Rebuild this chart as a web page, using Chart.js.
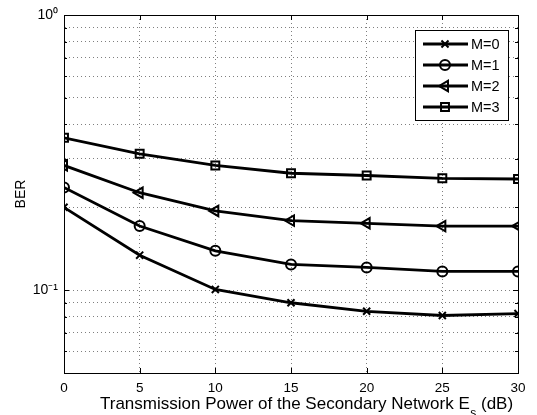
<!DOCTYPE html>
<html><head><meta charset="utf-8">
<script src="https://cdn.jsdelivr.net/npm/chart.js@4.4.1/dist/chart.umd.min.js"></script>
<style>html,body{margin:0;padding:0;background:#fff}canvas{display:block}</style>
</head><body>
<canvas id="c" width="537" height="415"></canvas>
<script>
// ---- data ----
const xValues = [0, 5, 10, 15, 20, 25, 30];
const seriesLabels = ['M=0', 'M=1', 'M=2', 'M=3'];
const berM0 = [0.200, 0.134, 0.1006, 0.090, 0.0838, 0.0809, 0.0822];
const berM1 = [0.236, 0.171, 0.139, 0.124, 0.121, 0.117, 0.117];
const berM2 = [0.284, 0.226, 0.194, 0.179, 0.175, 0.171, 0.171];
const berM3 = [0.358, 0.313, 0.284, 0.266, 0.261, 0.255, 0.2535];
const yGridValues = [0.05, 0.06, 0.07, 0.08, 0.09, 0.1, 0.2, 0.3, 0.4, 0.5, 0.6, 0.7, 0.8, 0.9, 1];
const yTickLabels = { '1': '10⁰', '0.1': '10⁻¹' };
const xTickStep = 5;
const xTitleParts = ['Transmission Power of the Secondary Network E', 's', ' (dB)'];
const yTitle = 'BER';

const FONT = "'Liberation Sans', Arial, Helvetica, sans-serif";
Chart.defaults.font.family = FONT;
Chart.defaults.color = '#000';

const seriesValues = [berM0, berM1, berM2, berM3];
const markerStyles = [
  { pointStyle: 'crossRot', rotation: 0, radius: 5 },
  { pointStyle: 'circle', rotation: 0, radius: 5 },
  { pointStyle: 'triangle', rotation: -90, radius: 6 },
  { pointStyle: 'rect', rotation: 0, radius: 5.6 }
];

const datasets = seriesValues.map((vals, i) => ({
  label: seriesLabels[i],
  data: xValues.map((x, j) => ({ x: x, y: vals[j] })),
  borderColor: '#000',
  borderWidth: 2.8,
  backgroundColor: 'rgba(0,0,0,0)',
  pointStyle: markerStyles[i].pointStyle,
  pointRotation: markerStyles[i].rotation,
  pointRadius: markerStyles[i].radius,
  pointBorderWidth: 2,
  pointBorderColor: '#000',
  pointBackgroundColor: 'rgba(0,0,0,0)',
  tension: 0,
  fill: false
}));

const GRID = 'rgba(0,0,0,0.5)';

const boxPlugin = {
  id: 'box',
  beforeDatasetsDraw(chart) {
    const { ctx, chartArea: a, scales } = chart;
    ctx.save();
    ctx.strokeStyle = '#000';
    ctx.lineWidth = 1;
    ctx.beginPath();
    scales.x.ticks.forEach(t => {
      const px = Math.round(scales.x.getPixelForValue(t.value)) + 0.5;
      ctx.moveTo(px, a.bottom); ctx.lineTo(px, a.bottom - 5);
      ctx.moveTo(px, a.top); ctx.lineTo(px, a.top + 5);
    });
    scales.y.ticks.forEach(t => {
      const py = Math.round(scales.y.getPixelForValue(t.value)) + 0.5;
      const len = (t.value === 1 || t.value === 0.1) ? 5 : 3;
      ctx.moveTo(a.left, py); ctx.lineTo(a.left + len, py);
      ctx.moveTo(a.right, py); ctx.lineTo(a.right - len, py);
    });
    ctx.stroke();
    ctx.strokeRect(Math.round(a.left) + 0.5, Math.round(a.top) + 0.5,
      Math.round(a.right - a.left), Math.round(a.bottom - a.top));
    ctx.restore();
  },
  afterDraw(chart) {
    const { ctx, chartArea: a } = chart;
    ctx.save();
    const lx = a.right - 103, ly = a.top + 15, lw = 93, lh = 90;
    ctx.fillStyle = '#fff';
    ctx.fillRect(lx, ly, lw, lh);
    ctx.strokeStyle = '#000';
    ctx.lineWidth = 1;
    ctx.strokeRect(Math.round(lx) + 0.5, Math.round(ly) + 0.5, lw, lh);
    ctx.font = '14.5px ' + FONT;
    ctx.textBaseline = 'middle';
    ctx.textAlign = 'left';
    chart.data.datasets.forEach((ds, i) => {
      const y = ly + 14 + i * 21;
      ctx.strokeStyle = '#000';
      ctx.lineWidth = 2.8;
      ctx.beginPath();
      ctx.moveTo(lx + 8, y); ctx.lineTo(lx + 53, y);
      ctx.stroke();
      ctx.lineWidth = 2;
      ctx.fillStyle = 'rgba(0,0,0,0)';
      Chart.helpers.drawPoint(ctx, {
        pointStyle: ds.pointStyle, rotation: ds.pointRotation,
        radius: ds.pointRadius, borderWidth: 2
      }, lx + 30, y);
      ctx.fillStyle = '#000';
      ctx.fillText(ds.label, lx + 56, y + 1);
    });
    ctx.fillStyle = '#000';
    ctx.textBaseline = 'alphabetic';
    let x = 100;
    const base = 409;
    ctx.font = '17px ' + FONT;
    ctx.fillText(xTitleParts[0], x, base);
    x += ctx.measureText(xTitleParts[0]).width;
    ctx.font = '12px ' + FONT;
    ctx.fillText(xTitleParts[1], x + 0.5, base + 8);
    x += ctx.measureText(xTitleParts[1]).width + 0.5;
    ctx.font = '17px ' + FONT;
    ctx.fillText(xTitleParts[2], x, base);
    ctx.restore();
  }
};

new Chart(document.getElementById('c'), {
  type: 'line',
  data: { datasets: datasets },
  plugins: [boxPlugin],
  options: {
    responsive: false,
    animation: false,
    devicePixelRatio: 1,
    layout: { padding: { top: 15, right: 19, left: 0, bottom: 0 } },
    plugins: { legend: { display: false }, tooltip: { enabled: false } },
    scales: {
      x: {
        type: 'linear', min: 0, max: 30,
        afterFit(s) { s.height = 42; },
        ticks: { stepSize: xTickStep, font: { size: 13.5 }, padding: 7, color: '#000' },
        grid: { color: GRID, drawTicks: false, lineWidth: 1 },
        border: { display: true, color: '#000', dash: [1, 3] },
        title: { display: false }
      },
      y: {
        type: 'logarithmic', min: 0.05, max: 1,
        afterFit(s) { s.width = 64; },
        afterBuildTicks(s) { s.ticks = yGridValues.map(v => ({ value: v })); },
        ticks: {
          autoSkip: false, font: { size: 14 }, padding: 6, color: '#000',
          callback: (v) => yTickLabels[String(v)] ?? ''
        },
        grid: { color: GRID, drawTicks: false, lineWidth: 1 },
        border: { display: true, color: '#000', dash: [1, 3] },
        title: { display: true, text: yTitle, font: { size: 14 }, padding: { top: 13, bottom: 0 }, color: '#000' }
      }
    }
  }
});
</script>
</body></html>
